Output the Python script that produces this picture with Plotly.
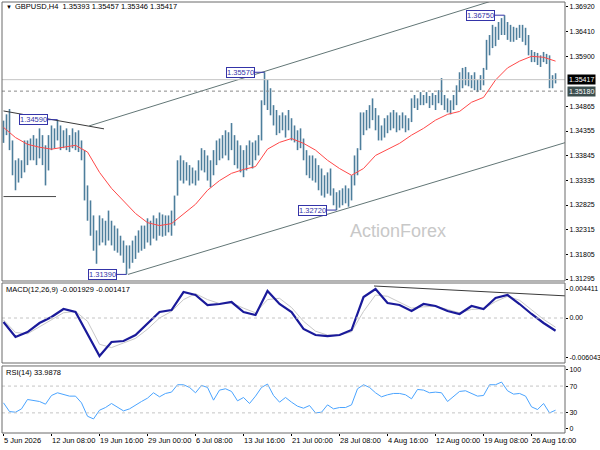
import plotly.graph_objects as go

SYMBOL = "GBPUSD,H4"
LAST_BAR = [1.35393, 1.35457, 1.35346, 1.35417]
DASHED_LEVEL = 1.35180

# 8-hour bars (every second H4 bar), high / low
HI = [
    1.3457, 1.3470, 1.3481, 1.3416, 1.3375, 1.3379, 1.3375, 1.3416, 1.3416, 1.3420,
    1.3427, 1.3420, 1.3441, 1.3427, 1.3406, 1.3427, 1.3447, 1.3441, 1.3459, 1.3447,
    1.3437, 1.3441, 1.3427, 1.3441, 1.3433, 1.3437, 1.3416, 1.3396, 1.3323, 1.3292,
    1.3261, 1.3230, 1.3261, 1.3255, 1.3250, 1.3271, 1.3250, 1.3240, 1.3234, 1.3219,
    1.3209, 1.3199, 1.3199, 1.3209, 1.3219, 1.3230, 1.3240, 1.3240, 1.3255, 1.3250,
    1.3261, 1.3255, 1.3267, 1.3263, 1.3261, 1.3261, 1.3271, 1.3302, 1.3375, 1.3385,
    1.3375, 1.3371, 1.3365, 1.3360, 1.3354, 1.3375, 1.3400, 1.3396, 1.3385, 1.3375,
    1.3396, 1.3416, 1.3420, 1.3427, 1.3437, 1.3433, 1.3452, 1.3427, 1.3416, 1.3406,
    1.3396, 1.3406, 1.3416, 1.3412, 1.3416, 1.3427, 1.3499, 1.3557, 1.3541, 1.3524,
    1.3489, 1.3479, 1.3468, 1.3474, 1.3468, 1.3479, 1.3462, 1.3447, 1.3437, 1.3441,
    1.3420, 1.3396, 1.3385, 1.3385, 1.3379, 1.3365, 1.3358, 1.3344, 1.3350, 1.3358,
    1.3317, 1.3309, 1.3313, 1.3317, 1.3323, 1.3317, 1.3344, 1.3385, 1.3400, 1.3474,
    1.3474, 1.3479, 1.3489, 1.3503, 1.3483, 1.3468, 1.3447, 1.3462, 1.3468, 1.3474,
    1.3479, 1.3474, 1.3468, 1.3474, 1.3468, 1.3462, 1.3503, 1.3510, 1.3503, 1.3516,
    1.3510, 1.3516, 1.3508, 1.3514, 1.3510, 1.3520, 1.3545, 1.3510, 1.3503, 1.3499,
    1.3510, 1.3530, 1.3557, 1.3566, 1.3568, 1.3557, 1.3551, 1.3557, 1.3541, 1.3551,
    1.3566, 1.3624, 1.3634, 1.3655, 1.3651, 1.3661, 1.3669, 1.3675, 1.3661, 1.3655,
    1.3651, 1.3649, 1.3655, 1.3655, 1.3649, 1.3634, 1.3603, 1.3599, 1.3597, 1.3592,
    1.3599, 1.3595, 1.3592, 1.3551, 1.3555,
]
LO = [
    1.3411, 1.3427, 1.3396, 1.3344, 1.3313, 1.3329, 1.3338, 1.3350, 1.3365, 1.3375,
    1.3375, 1.3365, 1.3379, 1.3365, 1.3323, 1.3354, 1.3396, 1.3400, 1.3416, 1.3396,
    1.3400, 1.3396, 1.3392, 1.3400, 1.3396, 1.3392, 1.3375, 1.3292, 1.3250, 1.3219,
    1.3188, 1.3161, 1.3199, 1.3205, 1.3199, 1.3209, 1.3199, 1.3188, 1.3184, 1.3178,
    1.3163, 1.3139, 1.3151, 1.3163, 1.3171, 1.3184, 1.3188, 1.3192, 1.3205, 1.3199,
    1.3213, 1.3209, 1.3219, 1.3217, 1.3219, 1.3226, 1.3219, 1.3240, 1.3302, 1.3333,
    1.3327, 1.3333, 1.3323, 1.3327, 1.3323, 1.3333, 1.3354, 1.3350, 1.3333, 1.3319,
    1.3344, 1.3365, 1.3375, 1.3379, 1.3385, 1.3375, 1.3396, 1.3365, 1.3358, 1.3350,
    1.3340, 1.3354, 1.3365, 1.3358, 1.3375, 1.3385, 1.3416, 1.3489, 1.3479, 1.3468,
    1.3447, 1.3427, 1.3431, 1.3437, 1.3422, 1.3437, 1.3416, 1.3412, 1.3396, 1.3400,
    1.3375, 1.3344, 1.3338, 1.3333, 1.3329, 1.3313, 1.3302, 1.3298, 1.3306, 1.3302,
    1.3282, 1.3272, 1.3277, 1.3282, 1.3286, 1.3279, 1.3292, 1.3323, 1.3344, 1.3396,
    1.3427, 1.3437, 1.3441, 1.3458, 1.3437, 1.3416, 1.3416, 1.3422, 1.3431, 1.3437,
    1.3441, 1.3433, 1.3437, 1.3441, 1.3433, 1.3437, 1.3454, 1.3483, 1.3479, 1.3489,
    1.3489, 1.3493, 1.3483, 1.3489, 1.3479, 1.3493, 1.3489, 1.3479, 1.3474, 1.3470,
    1.3479, 1.3489, 1.3516, 1.3524, 1.3530, 1.3528, 1.3524, 1.3520, 1.3516, 1.3520,
    1.3530, 1.3562, 1.3592, 1.3607, 1.3611, 1.3624, 1.3634, 1.3634, 1.3624, 1.3620,
    1.3620, 1.3624, 1.3628, 1.3620, 1.3613, 1.3592, 1.3578, 1.3578, 1.3572, 1.3568,
    1.3578, 1.3574, 1.3524, 1.3524, 1.3534,
]

# moving average, MACD and signal every 8 H4 bars
MA = [
    1.3443, 1.3422, 1.3408, 1.3402, 1.3398, 1.3402, 1.3406, 1.3392, 1.3350, 1.3317,
    1.3290, 1.3265, 1.3246, 1.3240, 1.3244, 1.3265, 1.3284, 1.3313, 1.3333, 1.3348,
    1.3356, 1.3362, 1.3398, 1.3412, 1.3420, 1.3410, 1.3396, 1.3375, 1.3358, 1.3344,
    1.3358, 1.3385, 1.3398, 1.3410, 1.3427, 1.3441, 1.3458, 1.3470, 1.3476, 1.3495,
    1.3505, 1.3541, 1.3566, 1.3580, 1.3590, 1.3588, 1.3580,
]
MACD = [
    -0.00061, -0.00289, -0.00213, -0.00076, 0.00015, 0.00137, 0.00091, -0.00243, -0.00578, -0.00365,
    -0.00350, -0.00259, -0.00091, 0.00091, 0.00122, 0.00395, 0.00350, 0.00198, 0.00213, 0.00243,
    0.00091, 0.00046, 0.00411, 0.00213, 0.00091, -0.00167, -0.00259, -0.00274, -0.00259, -0.00183,
    0.00319, 0.00441, 0.00228, 0.00198, 0.00106, 0.00213, 0.00183, 0.00106, 0.00061, 0.00183,
    0.00137, 0.00304, 0.00350, 0.00213, 0.00061, -0.00076, -0.00193,
]
SIGNAL = [
    -0.0003, -0.0022, -0.0024, -0.0013, -0.0003, 0.0008, 0.0010, -0.0005, -0.0040, -0.0045,
    -0.0038, -0.0031, -0.0017, 0.0000, 0.0010, 0.0028, 0.0037, 0.0028, 0.0022, 0.0023,
    0.0015, 0.0008, 0.0028, 0.0030, 0.0016, -0.0005, -0.0020, -0.0026, -0.0026, -0.0021,
    0.0010, 0.0035, 0.0033, 0.0024, 0.0015, 0.0017, 0.0018, 0.0013, 0.0008, 0.0013,
    0.0014, 0.0025, 0.0033, 0.0027, 0.0013, -0.0002, -0.0014,
]
MACD_LAST, SIGNAL_LAST = -0.001929, -0.001417

# RSI every 4 H4 bars
RSI = [
    45, 32, 31, 36, 50, 48, 47, 43, 56, 60,
    57, 55, 55, 45, 25, 21, 34, 38, 44, 38,
    33, 36, 42, 47, 52, 60, 54, 59, 61, 72,
    72, 68, 60, 71, 68, 49, 64, 66, 62, 48,
    53, 44, 55, 68, 73, 56, 46, 53, 46, 40,
    37, 41, 30, 31, 42, 36, 38, 38, 42, 66,
    72, 68, 60, 54, 57, 59, 59, 57, 51, 65,
    64, 60, 61, 60, 47, 54, 62, 63, 59, 55,
    56, 72, 72, 76, 63, 58, 59, 55, 39, 35,
    44, 30, 34,
]
RSI_LAST = 33.9878

TICK_LABELS = ["5 Jun 2026", "12 Jun 08:00", "19 Jun 16:00", "29 Jun 00:00",
               "6 Jul 08:00", "13 Jul 16:00", "21 Jul 00:00", "28 Jul 08:00",
               "4 Aug 16:00", "12 Aug 00:00", "19 Aug 08:00", "26 Aug 16:00"]
PRICE_TICKS = [1.36920, 1.36410, 1.35900, 1.34865, 1.34355, 1.33845,
               1.33335, 1.32825, 1.32315, 1.31805, 1.31295]
MACD_TICKS = [0.004411, 0.0, -0.006043]

# drawn objects: [bar0, value0, bar1, value1]
DOWN_LINE = [0, 1.3477, 67, 1.3440]
CHAN_UPPER = [57, 1.3446, 324, 1.3703]
CHAN_LOWER = [83, 1.3139, 376, 1.3413]
SUPPORT_LINE = [0, 1.3300, 35, 1.3300]
MACD_LINE = [247, 0.00487, 376, 0.00335]
# swing labels: (series, 8h bar number)
SWINGS = [("hi", 18), ("hi", 87), ("lo", 41), ("lo", 111), ("hi", 167)]

BAR_X = list(range(0, 2 * len(HI), 2))
IND_X = list(range(0, 8 * len(MA), 8))
RSI_X = list(range(0, 4 * len(RSI), 4))
TICK_X = [32 * i for i in range(len(TICK_LABELS))]

FONT = "Liberation Sans, Arial, sans-serif"
FS = 7.5
BAR_COLOR = "#4d7e9c"
LABEL_BLUE = "#3434a8"

fig = go.Figure()

bx, by = [], []
for i, h, l in zip(BAR_X, HI, LO):
    bx += [i, i, None]
    by += [l, h, None]
fig.add_trace(go.Scatter(x=bx, y=by, mode="lines", line=dict(color=BAR_COLOR, width=1.6),
                         xaxis="x", yaxis="y", hoverinfo="skip"))
fig.add_trace(go.Scatter(x=IND_X, y=MA, mode="lines", line=dict(color="#ff4848", width=1),
                         xaxis="x", yaxis="y"))


def seg(vals, color, width, xa="x", ya="y"):
    fig.add_trace(go.Scatter(x=[vals[0], vals[2]], y=[vals[1], vals[3]], mode="lines",
                             line=dict(color=color, width=width), xaxis=xa, yaxis=ya))


seg(DOWN_LINE, "#3a3a3a", 1)
seg(CHAN_UPPER, "#627676", 1)
seg(CHAN_LOWER, "#627676", 1)
seg(SUPPORT_LINE, "#4a4a4a", 1)

fig.add_trace(go.Scatter(x=IND_X, y=SIGNAL, mode="lines", line=dict(color="#c8c8c8", width=1),
                         xaxis="x2", yaxis="y2"))
fig.add_trace(go.Scatter(x=IND_X, y=MACD, mode="lines", line=dict(color="#1a1a9a", width=2.2),
                         xaxis="x2", yaxis="y2"))
seg(MACD_LINE, "#3a3a3a", 1, "x2", "y2")

fig.add_trace(go.Scatter(x=RSI_X, y=RSI, mode="lines", line=dict(color="#4aa4ff", width=1),
                         xaxis="x3", yaxis="y3"))

# reference lines
shapes = [
    dict(type="line", xref="x domain", x0=0, x1=1, yref="y", y0=LAST_BAR[3], y1=LAST_BAR[3],
         line=dict(color="#c4c4c4", width=1)),
    dict(type="line", xref="x domain", x0=0, x1=1, yref="y", y0=DASHED_LEVEL, y1=DASHED_LEVEL,
         line=dict(color="#8a8a8a", width=1, dash="3px,3px")),
    dict(type="line", xref="x2 domain", x0=0, x1=1, yref="y2", y0=0, y1=0,
         line=dict(color="#c4c4c4", width=1, dash="3px,3px")),
]
for lvl in (70, 30):
    shapes.append(dict(type="line", xref="x3 domain", x0=0, x1=1, yref="y3", y0=lvl, y1=lvl,
                       line=dict(color="#c4c4c4", width=1, dash="3px,3px")))
for ax in ("", "2", "3"):
    shapes.append(dict(type="rect", xref="x%s domain" % ax, yref="y%s domain" % ax,
                       x0=0, x1=1, y0=0, y1=1, line=dict(color="#6a6a6a", width=1)))

annotations = []
for kind, k in SWINGS:
    p = HI[k] if kind == "hi" else LO[k]
    annotations.append(dict(x=BAR_X[k], y=p, xref="x", yref="y", text="%.5f" % p,
                            showarrow=True, arrowhead=0, arrowwidth=1, arrowcolor=LABEL_BLUE,
                            ax=-24, ay=0, standoff=0, bgcolor="white", bordercolor=LABEL_BLUE,
                            borderwidth=1, borderpad=0,
                            font=dict(family=FONT, size=FS, color=LABEL_BLUE)))

for val, bg in ((LAST_BAR[3], "#000000"), (DASHED_LEVEL, "#3d4f4f")):
    annotations.append(dict(x=1, xref="paper", y=val, yref="y", xanchor="left", xshift=2,
                            text="%.5f" % val, showarrow=False, bgcolor=bg, borderpad=1,
                            font=dict(family=FONT, size=7, color="white")))

header = "%s  %s" % (SYMBOL, " ".join("%.5f" % v for v in LAST_BAR))
annotations += [
    dict(x=0, y=0.9884, xref="paper", yref="paper", xanchor="left", yanchor="middle", xshift=2,
         text="\u25bc", showarrow=False, font=dict(family=FONT, size=6, color="#000000")),
    dict(x=0, y=0.9884, xref="paper", yref="paper", xanchor="left", yanchor="middle", xshift=11,
         text=header, showarrow=False, font=dict(family=FONT, size=FS, color="#000000")),
    dict(x=0, y=0.3318, xref="paper", yref="paper", xanchor="left", yanchor="middle", xshift=2,
         text="MACD(12,26,9) %.6f %.6f" % (MACD_LAST, SIGNAL_LAST), showarrow=False,
         font=dict(family=FONT, size=FS, color="#000000")),
    dict(x=0, y=0.1415, xref="paper", yref="paper", xanchor="left", yanchor="middle", xshift=2,
         text="RSI(14) %.4f" % RSI_LAST, showarrow=False,
         font=dict(family=FONT, size=FS, color="#000000")),
    dict(x=0.792, y=0.4687, xref="paper", yref="paper", text="ActionForex", showarrow=False,
         font=dict(family=FONT, size=18, color="#c8c8c8")),
]

XR = [-1, 374.3]
xfont = dict(family=FONT, size=FS, color="#000000")
yfont = dict(family=FONT, size=7, color="#000000")
xcommon = dict(range=XR, showgrid=False, zeroline=False, showline=False, fixedrange=True)
ycommon = dict(side="right", showgrid=False, zeroline=False, showline=False, ticks="outside",
               ticklen=2, tickcolor="#000000", tickfont=yfont)

fig.update_layout(
    width=600, height=450, template="none", showlegend=False,
    margin=dict(l=2, r=35, t=2, b=17),
    paper_bgcolor="white", plot_bgcolor="white",
    xaxis=dict(domain=[0, 1], anchor="y", showticklabels=False, **xcommon),
    xaxis2=dict(domain=[0, 1], anchor="y2", showticklabels=False, **xcommon),
    xaxis3=dict(domain=[0, 1], anchor="y3", tickvals=TICK_X, ticktext=TICK_LABELS,
                ticks="outside", ticklen=2, tickcolor="#000000", tickfont=xfont,
                tickangle=0, ticklabelposition="outside right", **xcommon),
    yaxis=dict(domain=[0.3527, 1], anchor="x", range=[1.31254, 1.37023],
               tickvals=PRICE_TICKS, ticktext=["%.5f" % v for v in PRICE_TICKS], **ycommon),
    yaxis2=dict(domain=[0.1624, 0.3480], anchor="x2", range=[-0.006844, 0.005323],
                tickvals=MACD_TICKS, ticktext=["0.004411", "0.00", "-0.006043"], **ycommon),
    yaxis3=dict(domain=[0, 0.1555], anchor="x3", range=[0, 100],
                tickvals=[94, 70, 30, 6], ticktext=["100", "70", "30", "0"], **ycommon),
    shapes=shapes,
    annotations=annotations,
)

# the page's default body margin would push the 600x450 figure out of the window
fig.write_html("out.html", config={"displayModeBar": False},
               post_script="document.body.style.margin = '0';")
